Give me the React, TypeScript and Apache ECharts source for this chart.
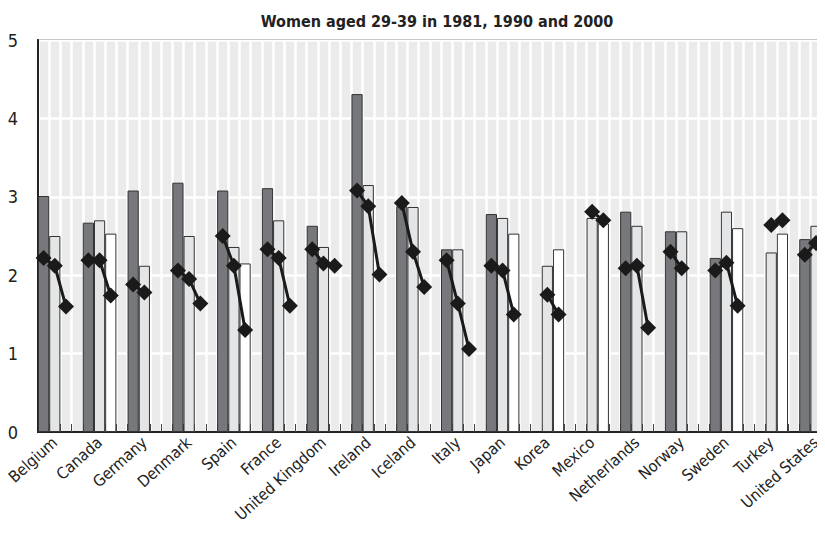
import React, { useEffect, useRef } from "react";
import * as echarts from "echarts";

const countries = ["Belgium", "Canada", "Germany", "Denmark", "Spain", "France", "United Kingdom", "Ireland", "Iceland", "Italy", "Japan", "Korea", "Mexico", "Netherlands", "Norway", "Sweden", "Turkey", "United States"];

// Bars
const bars1981 = [3.01, 2.67, 3.08, 3.18, 3.08, 3.11, 2.63, 4.31, 2.88, 2.33, 2.78, null, null, 2.81, 2.56, 2.22, null, 2.46];
const bars1990 = [2.5, 2.7, 2.12, 2.5, 2.36, 2.7, 2.36, 3.15, 2.87, 2.33, 2.73, 2.12, 2.73, 2.63, 2.56, 2.81, 2.29, 2.63];
const bars2000 = [null, 2.53, null, null, 2.15, null, null, null, null, null, 2.53, 2.33, 2.66, null, null, 2.6, 2.53, 2.6];

// Line markers
const line1981 = [2.22, 2.19, 1.88, 2.06, 2.5, 2.33, 2.33, 3.08, 2.92, 2.19, 2.12, null, null, 2.09, 2.3, 2.06, null, 2.26];
const line1990 = [2.12, 2.19, 1.78, 1.95, 2.12, 2.22, 2.15, 2.88, 2.3, 1.64, 2.06, 1.75, 2.81, 2.12, 2.09, 2.16, 2.64, 2.41];
const line2000 = [1.6, 1.74, null, 1.64, 1.3, 1.61, 2.12, 2.01, 1.85, 1.06, 1.5, 1.5, 2.7, 1.33, null, 1.61, 2.7, 1.92];

const yTicks = [0, 1, 2, 3, 4, 5];
const title = "Women aged 29-39 in 1981, 1990 and 2000";

const barColors = ["#77787c", "#e4e5e6", "#ffffff"];
const FONT = "'DejaVu Sans Condensed', 'Liberation Sans Narrow', sans-serif";

export default function App() {
  const ref = useRef<HTMLDivElement>(null);
  useEffect(() => {
    if (!ref.current) return;
    const chart = echarts.init(ref.current, undefined, { renderer: "svg" });
    const slots: string[] = [];
    const barData: any[] = [];
    const lineData: any[] = [];
    const barSets = [bars1981, bars1990, bars2000];
    const lineSets = [line1981, line1990, line2000];
    countries.forEach((c, k) => {
      for (let j = 0; j < 4; j++) {
        slots.push(c + "|" + j);
        if (j < 3) {
          const v = barSets[j][k];
          barData.push(v == null ? null : { value: v, itemStyle: { color: barColors[j] } });
          lineData.push(lineSets[j][k]);
        } else {
          barData.push(null);
          lineData.push(null);
        }
      }
    });
    const nSlots = slots.length;
    chart.setOption({
      animation: false,
      title: {
        text: title,
        left: 432,
        top: 8,
        textAlign: "center",
        textStyle: { fontFamily: FONT, fontSize: 16, fontWeight: "bold", color: "#222" },
      },
      grid: {
        left: 38,
        top: 40,
        height: 392,
        width: 806,
        show: true,
        backgroundColor: "#ebebeb",
        borderColor: "#222",
        borderWidth: 2,
        containLabel: false,
        outerBoundsMode: "none",
      },
      xAxis: [
        {
          type: "category",
          data: slots,
          boundaryGap: true,
          axisLine: { show: true, lineStyle: { color: "#222", width: 2 } },
          axisTick: { show: false },
          splitLine: { show: false },
          axisLabel: {
            interval: (i: number) => i % 4 === 1,
            rotate: 42,
            margin: 8,
            fontFamily: FONT,
            fontSize: 16,
            color: "#222",
            formatter: (v: string) => v.split("|")[0],
          },
        },
        {
          type: "value",
          position: "bottom",
          min: 0,
          max: nSlots,
          interval: 1,
          axisLine: { show: false },
          axisTick: { show: true, inside: true, length: 8, lineStyle: { color: "#444", width: 1 } },
          axisLabel: { show: false },
          splitLine: { show: true, lineStyle: { color: "#ffffff", width: 2.5 } },
        },
      ],
      yAxis: {
        type: "value",
        min: 0,
        max: 5,
        interval: 1,
        axisLine: { show: true, lineStyle: { color: "#222", width: 2 } },
        axisTick: { show: false },
        splitLine: { show: true, lineStyle: { color: "#ffffff", width: 2.5 } },
        axisLabel: {
          margin: 20,
          fontFamily: FONT,
          fontSize: 18,
          color: "#222",
          formatter: (v: number) => (yTicks.includes(v) ? String(v) : ""),
        },
      },
      series: [
        {
          type: "bar",
          xAxisIndex: 0,
          data: barData,
          barWidth: "100%",
          barCategoryGap: "0%",
          itemStyle: { borderColor: "#333", borderWidth: 1 },
          z: 2,
        },
        {
          type: "line",
          xAxisIndex: 0,
          data: lineData,
          connectNulls: false,
          symbol: "diamond",
          symbolSize: 16,
          showAllSymbol: true,
          lineStyle: { color: "#1a1a1a", width: 3 },
          itemStyle: { color: "#1a1a1a" },
          z: 5,
        },
      ],
    });
    return () => chart.dispose();
  }, []);
  return <div ref={ref} style={{ width: 825, height: 540, margin: -8 }} />;
}
